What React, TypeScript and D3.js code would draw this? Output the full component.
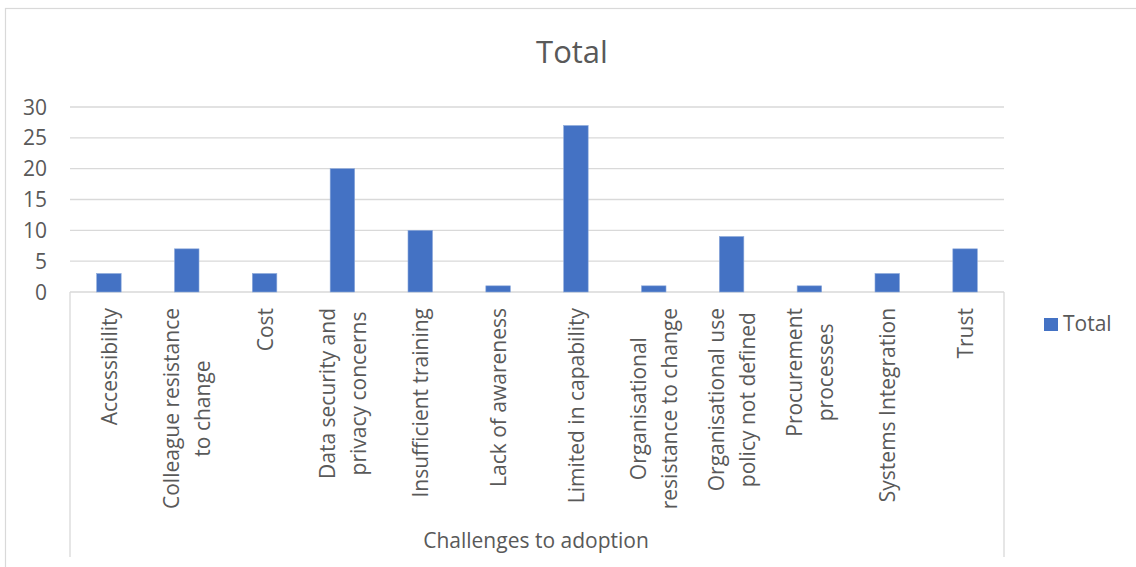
import React from "react";
import * as d3 from "d3";

const categories: string[] = [
  "Accessibility",
  "Colleague resistance\nto change",
  "Cost",
  "Data security and\nprivacy concerns",
  "Insufficient training",
  "Lack of awareness",
  "Limited in capability",
  "Organisational\nresistance to change",
  "Organisational use\npolicy not defined",
  "Procurement\nprocesses",
  "Systems Integration",
  "Trust",
];
const totals: number[] = [3, 7, 3, 20, 10, 1, 27, 1, 9, 1, 3, 7];
const yTicks: number[] = [0, 5, 10, 15, 20, 25, 30];
const seriesName = "Total";
const chartTitle = "Total";
const xAxisTitle = "Challenges to adoption";

const W = 1136;
const H = 567;
const FONT = "'Open Sans', 'Segoe UI', sans-serif";
const TEXT = "#595959";
const GRID = "#D9D9D9";
const BAR = "#4472C4";

let measureCtx: CanvasRenderingContext2D | null = null;
function textWidth(s: string, size: number): number {
  if (!measureCtx) {
    const c = document.createElement("canvas");
    measureCtx = c.getContext("2d");
  }
  if (!measureCtx) return s.length * size * 0.5;
  measureCtx.font = `${size}px 'Open Sans'`;
  return measureCtx.measureText(s).width;
}

export default function App() {
  const x = d3.scaleBand<string>().domain(categories).range([70, 1004]).padding(0);
  const y = d3.scaleLinear().domain([0, 30]).range([292, 107]);
  const barW = x.bandwidth() * 0.315;
  const lineGap = 31;
  const labelTop = 308;

  return (
    <svg
      width={W}
      height={H}
      style={{ position: "absolute", left: 0, top: 0, background: "#fff" }}
      fontFamily={FONT}
    >
      <rect x={5.5} y={8.5} width={W + 10} height={H + 10} fill="#fff" stroke={GRID} strokeWidth={1.2} />
      <text x={572} y={63} textAnchor="middle" fontSize={31} fill={TEXT}>
        {chartTitle}
      </text>
      {yTicks.map((t) => (
        <g key={t}>
          <line x1={70} x2={1004} y1={y(t)} y2={y(t)} stroke={GRID} strokeWidth={1.3} />
          <text x={47} y={y(t) + 7.5} textAnchor="end" fontSize={21} fill={TEXT}>
            {t}
          </text>
        </g>
      ))}
      <line x1={70} x2={70} y1={y(0)} y2={557} stroke={GRID} strokeWidth={1.3} />
      <line x1={1004} x2={1004} y1={y(0)} y2={557} stroke={GRID} strokeWidth={1.3} />
      {categories.map((c, i) => {
        const cx = (x(c) as number) + x.bandwidth() / 2;
        const v = totals[i];
        return (
          <rect
            key={c}
            x={cx - barW / 2}
            y={y(v)}
            width={barW}
            height={y(0) - y(v)}
            fill={BAR}
            stroke="#8eaadb"
            strokeWidth={0.6}
          />
        );
      })}
      {categories.map((c) => {
        const cx = (x(c) as number) + x.bandwidth() / 2;
        const lines = c.split("\n");
        const n = lines.length;
        const maxW = Math.max(...lines.map((l) => textWidth(l, 21)));
        const mid = labelTop + maxW / 2;
        return (
          <g key={c}>
            {lines.map((ln, j) => {
              const bx = cx + 8 + (j - (n - 1) / 2) * lineGap;
              return (
                <text
                  key={j}
                  transform={`translate(${bx},${mid}) rotate(-90)`}
                  textAnchor="middle"
                  fontSize={21}
                  fill={TEXT}
                >
                  {ln}
                </text>
              );
            })}
          </g>
        );
      })}
      <text x={536} y={548} textAnchor="middle" fontSize={21} fill={TEXT}>
        {xAxisTitle}
      </text>
      <rect x={1044} y={318} width={14} height={13} fill={BAR} />
      <text x={1063} y={331} fontSize={21} fill={TEXT}>
        {seriesName}
      </text>
    </svg>
  );
}
